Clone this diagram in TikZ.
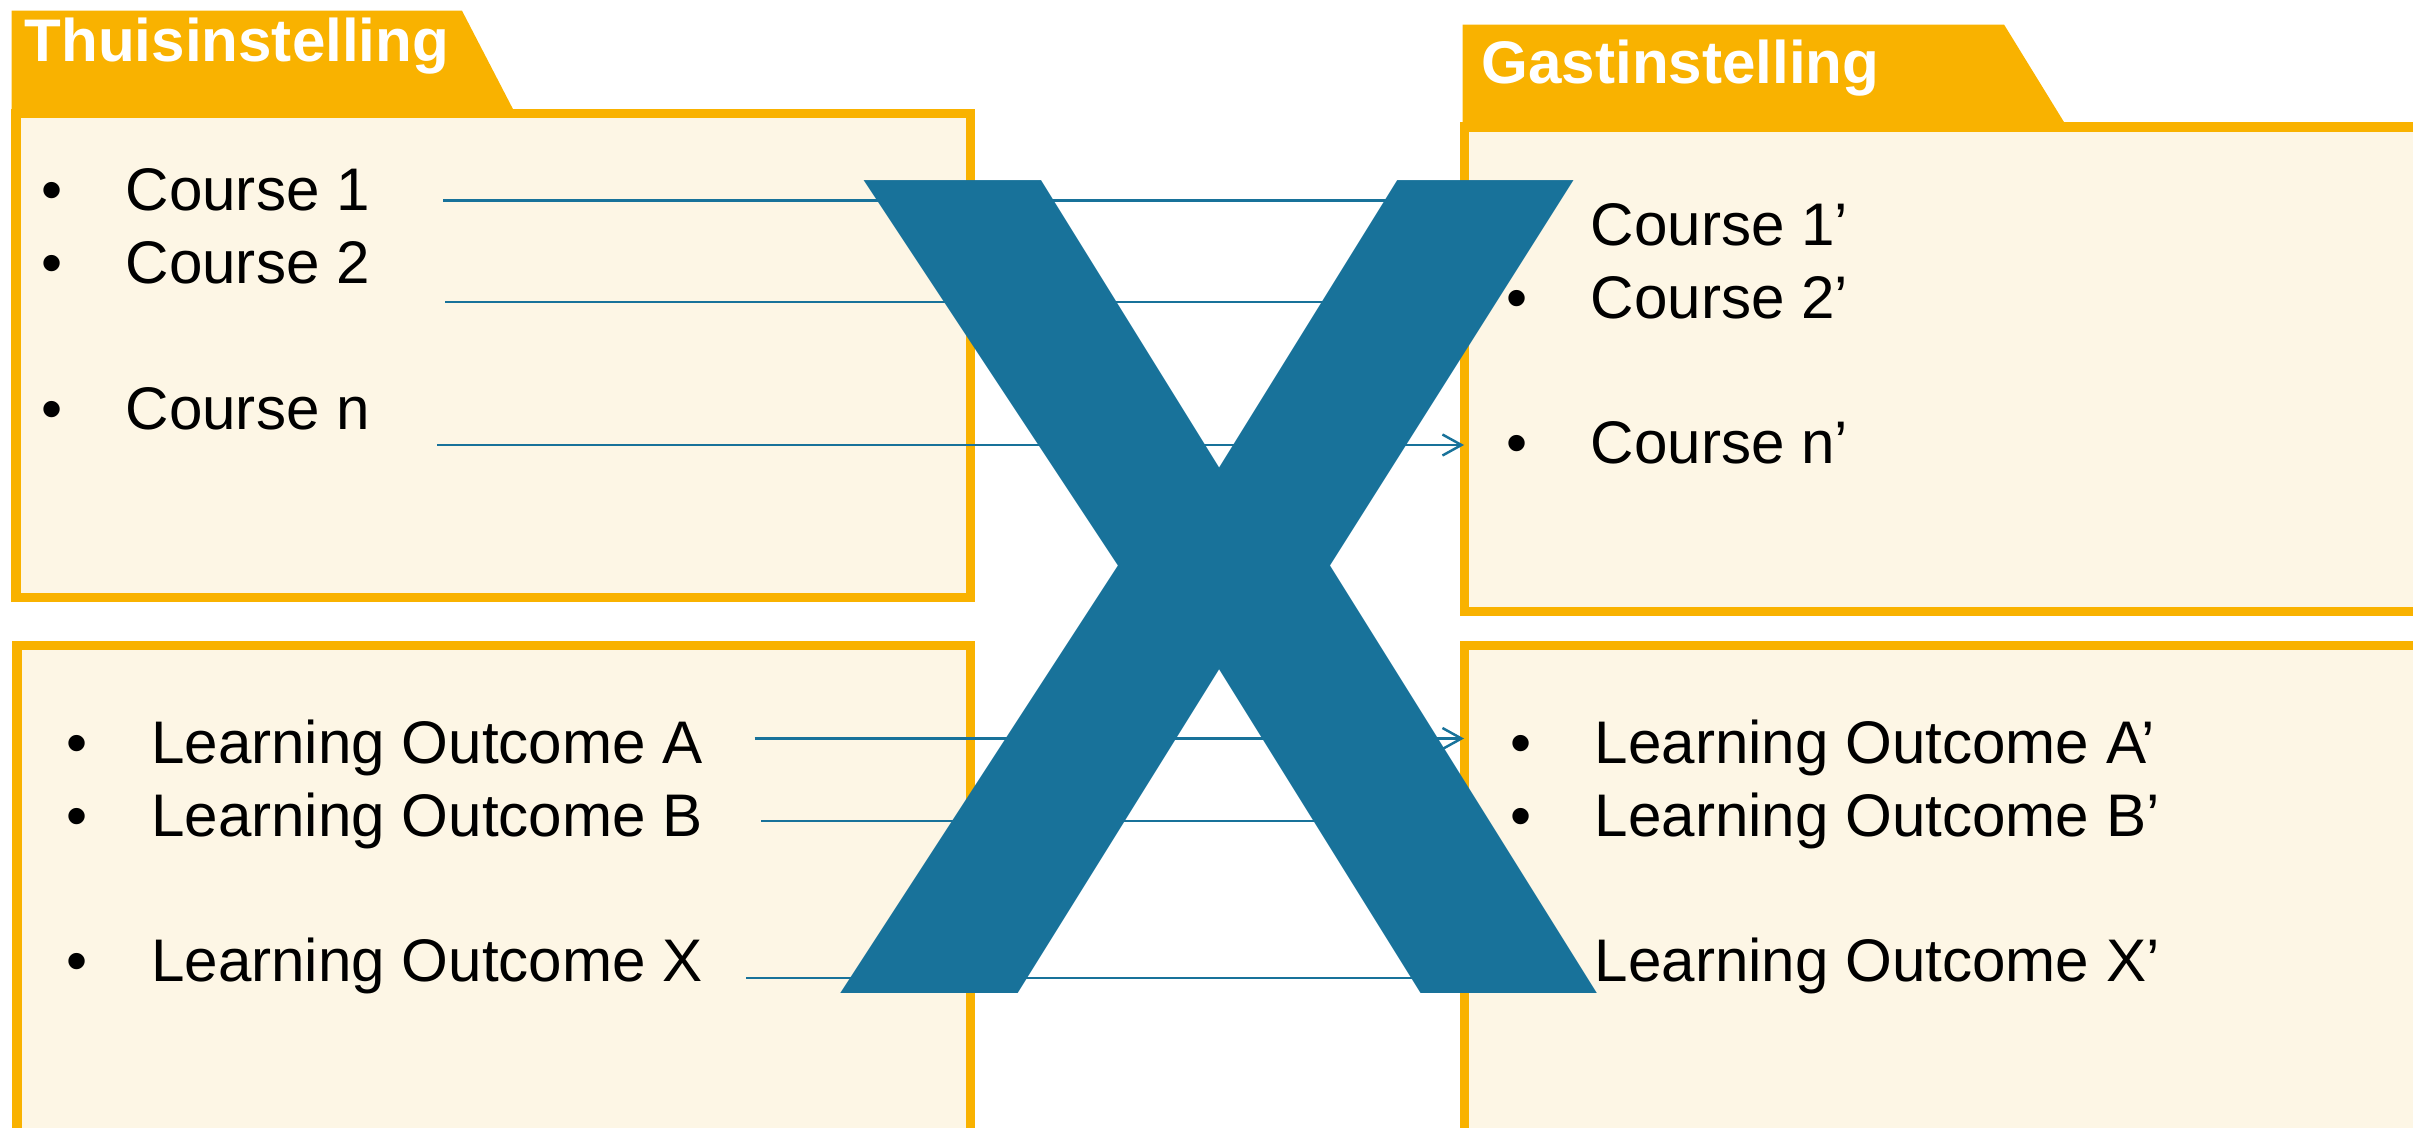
\documentclass[tikz,border=0pt]{standalone}
\usepackage{graphicx}
\usepackage{fontspec}
\setmainfont{Liberation Sans}
\usetikzlibrary{arrows.meta}

\definecolor{xblue}{RGB}{24,114,154}
\definecolor{taborange}{RGB}{249,178,0}
\definecolor{cream}{RGB}{253,246,229}
\newcommand{\bul}{\makebox[0.845cm][l]{\textbullet}}

\begin{document}
\begin{tikzpicture}[x=0.01cm,y=-0.01cm,
	box/.style={draw=taborange, fill=cream, line width=0.09cm, anchor=north west, inner sep=0, outer sep=0},
	tab/.style={fill=taborange},
	title/.style={anchor=base west, inner sep=0, text=white, font=\fontsize{17.1}{20}\selectfont\bfseries},
	item/.style={anchor=base west, inner sep=0, font=\fontsize{17.1}{20}\selectfont},
	link/.style={xblue, line width=0.7pt, -{Straight Barb[length=0.19cm,width=0.21cm]}}]

	\useasboundingbox (0,0) rectangle (2413,1127);
	\clip (0,0) rectangle (2413,1127);

	% Thuisinstelling
	\fill [tab] (11.5,10.7) -- (462,10.7) -- (515,113) -- (11.5,113) -- cycle;
	\node [box, minimum width=9.54cm, minimum height=4.835cm] (hc) at (16,113.5) {};
	\node [box, minimum width=9.53cm, minimum height=4.945cm] (ho) at (17,645.5) {};
	\node [title] (home) at (24,61) {Thuisinstelling};

	% Gastinstelling
	\fill [tab] (1462.7,24.5) -- (2004,24.5) -- (2067,127) -- (1462.7,127) -- cycle;
	\node [box, minimum width=9.76cm, minimum height=4.84cm] (gc) at (1464,127) {};
	\node [box, minimum width=9.76cm, minimum height=4.945cm] (go) at (1464,645.5) {};
	\node [title] (host) at (1481,83) {Gastinstelling};

	% courses
	\node [item] (c1) at (40.5,210) {\bul Course 1};
	\node [item] (c2) at (40.5,283) {\bul Course 2};
	\node [item] (cn) at (40.5,429) {\bul Course n};
	\node [item] (c1p) at (1505.5,245) {\bul Course 1’};
	\node [item] (c2p) at (1505.5,318) {\bul Course 2’};
	\node [item] (cnp) at (1505.5,463) {\bul Course n’};

	% learning outcomes
	\node [item] (la) at (66,763) {\bul Learning Outcome A};
	\node [item] (lb) at (66,836) {\bul Learning Outcome B};
	\node [item] (lx) at (66,981.5) {\bul Learning Outcome X};
	\node [item] (lap) at (1509.5,763) {\bul Learning Outcome A’};
	\node [item] (lbp) at (1509.5,836) {\bul Learning Outcome B’};
	\node [item] (lxp) at (1509.5,981.5) {\bul Learning Outcome X’};

	% links
	\coordinate (s1) at (443,200.5);
	\coordinate (s2) at (445,302);
	\coordinate (sn) at (437,445);
	\coordinate (sa) at (754.5,738.5);
	\coordinate (sb) at (761,821);
	\coordinate (sx) at (746,978);
	\draw [link] (s1) -- (s1 -| gc.west);
	\draw [link] (s2) -- (s2 -| gc.west);
	\draw [link] (sn) -- (sn -| gc.west);
	\draw [link] (sa) -- (sa -| go.west);
	\draw [link] (sb) -- (sb -| go.west);
	\draw [link] (sx) -- (sx -| go.west);

	% X
	\node [anchor=base west, inner sep=0, text=xblue, font=\fontsize{336}{336}\selectfont\bfseries] (cross) at (829.5,993) {\scalebox{0.986}[1]{X}};
\end{tikzpicture}
\end{document}
